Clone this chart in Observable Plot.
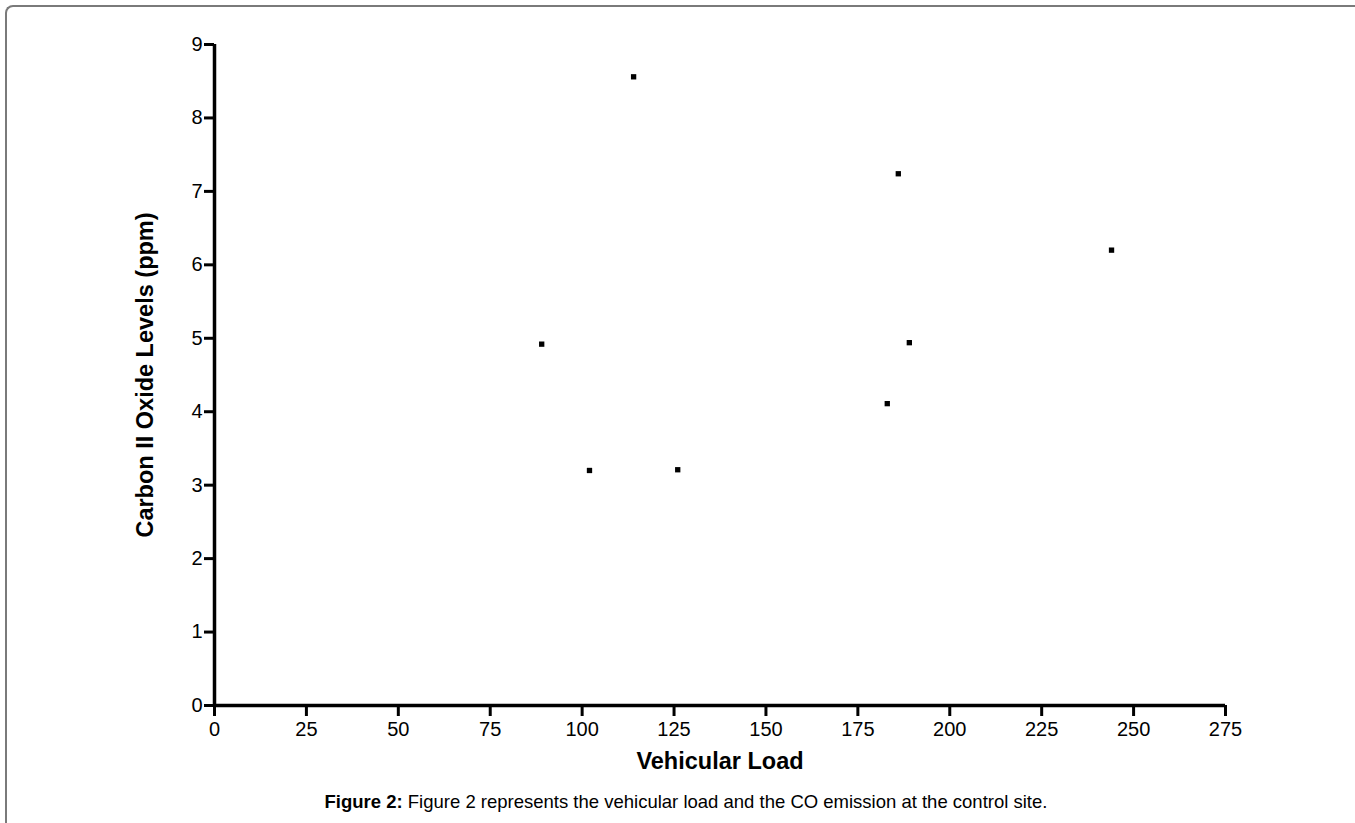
<!DOCTYPE html>
<html>
<head>
<meta charset="utf-8">
<script src="https://cdn.jsdelivr.net/npm/d3@7"></script>
<script src="https://cdn.jsdelivr.net/npm/@observablehq/plot@0.6"></script>
<style>
  html, body { margin: 0; padding: 0; background: #fff; }
  #wrap { position: relative; width: 1355px; height: 823px; overflow: hidden; font-family: "Liberation Sans", Arial, sans-serif; }
  #frame { position: absolute; left: 5px; top: 5px; width: 1400px; height: 900px; border-top: 2px solid #7a7a7a; border-left: 2px solid #7a7a7a; border-top-left-radius: 8px; box-sizing: border-box; }
  #chart { position: absolute; left: 0; top: 0; }
  #caption { position: absolute; left: 0; width: 1372px; top: 791px; text-align: center; font-size: 18.5px; color: #000; white-space: nowrap; }
</style>
</head>
<body>
<div id="wrap">
  <div id="frame"></div>
  <div id="chart"></div>
  <div id="caption"><b>Figure 2:</b> Figure 2 represents the vehicular load and the CO emission at the control site.</div>
</div>
<script>
const vehicularLoad = [89, 102, 114, 126, 183, 186, 189, 244];
const coLevels = [4.92, 3.20, 8.56, 3.21, 4.11, 7.24, 4.94, 6.20];
const xTicks = [0, 25, 50, 75, 100, 125, 150, 175, 200, 225, 250, 275];
const yTicks = [0, 1, 2, 3, 4, 5, 6, 7, 8, 9];
const xLabel = "Vehicular Load";
const yLabel = "Carbon II Oxide Levels (ppm)";

const data = vehicularLoad.map((x, i) => ({x, y: coLevels[i]}));

const chart = Plot.plot({
  width: 1355,
  height: 790,
  marginLeft: 214,
  marginRight: 130,
  marginTop: 44,
  marginBottom: 85,
  style: {fontFamily: "'Liberation Sans', Arial, sans-serif", background: "transparent", color: "#000"},
  x: {domain: [0, 275]},
  y: {domain: [0, 9]},
  marks: [
    Plot.axisX({ticks: xTicks, tickSize: 11, tickPadding: 5, strokeWidth: 3, fontSize: 20, label: null, tickFormat: d => String(d)}),
    Plot.axisY({ticks: yTicks, tickSize: 10, tickPadding: 2, strokeWidth: 3, fontSize: 20, label: null, tickFormat: d => String(d)}),
    Plot.ruleX([0], {stroke: "#000", strokeWidth: 3.5}),
    Plot.ruleY([0], {stroke: "#000", strokeWidth: 3.5}),
    Plot.dot(data, {x: "x", y: "y", symbol: "square", r: 3, fill: "#000", stroke: null}),
    Plot.text([xLabel], {frameAnchor: "bottom", dy: 63, fontSize: 23.5, fontWeight: "bold", lineAnchor: "bottom", fill: "#000"}),
    Plot.text([yLabel], {frameAnchor: "left", dx: -69, rotate: -90, fontSize: 23.5, fontWeight: "bold", lineAnchor: "middle", textAnchor: "middle", fill: "#000"})
  ]
});
document.getElementById("chart").appendChild(chart);
</script>
</body>
</html>
